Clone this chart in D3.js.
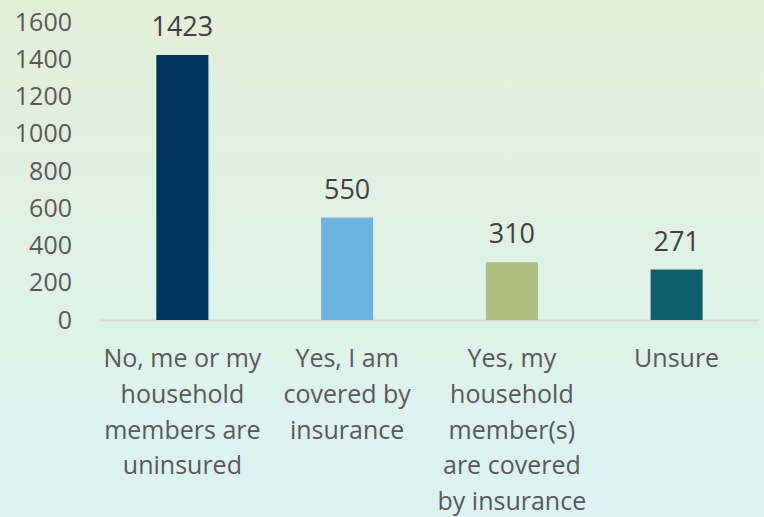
<!DOCTYPE html>
<html>
<head>
<meta charset="utf-8">
<script src="https://cdn.jsdelivr.net/npm/d3@7"></script>
<style>
  body { margin: 0; }
  svg { display: block; font-family: "Open Sans", sans-serif; }
</style>
</head>
<body>
<div id="chart"></div>
<script>
var categories = [
    ["No, me or my", "household", "members are", "uninsured"],
    ["Yes, I am", "covered by", "insurance"],
    ["Yes, my", "household", "member(s)", "are covered", "by insurance"],
    ["Unsure"]
];
var values = [1423, 550, 310, 271];
var barColors = ["#003660", "#6cb3df", "#adbf83", "#0e616a"];
var yTicks = [0, 200, 400, 600, 800, 1000, 1200, 1400, 1600];

var W = 764, H = 517;
var margin = {top: 22, right: 5, bottom: 197, left: 100},
    width = W - margin.left - margin.right,
    height = H - margin.top - margin.bottom;

var svg = d3.select("#chart")
    .append("svg")
        .attr("width", W)
        .attr("height", H);

var grad = svg.append("defs").append("linearGradient")
    .attr("id", "bg")
    .attr("x1", 0).attr("y1", 0).attr("x2", 0).attr("y2", 1);
grad.append("stop").attr("offset", "0%").attr("stop-color", "#e3efd8");
grad.append("stop").attr("offset", "55%").attr("stop-color", "#dff2e6");
grad.append("stop").attr("offset", "100%").attr("stop-color", "#dcf3f3");

svg.append("rect")
    .attr("width", W)
    .attr("height", H)
    .attr("fill", "url(#bg)");

var g = svg.append("g")
    .attr("transform", "translate(" + margin.left + "," + margin.top + ")");

var x = d3.scaleBand()
    .domain(d3.range(values.length))
    .range([0, width])
    .paddingInner(0.684)
    .paddingOuter(0.342);

var y = d3.scaleLinear()
    .domain([0, 1600])
    .range([height, 0]);

// y axis labels only
var yAxis = g.append("g")
    .call(d3.axisLeft(y).tickValues(yTicks).tickFormat(d3.format("d")).tickSize(0).tickPadding(28));
yAxis.select(".domain").remove();
yAxis.selectAll("text")
    .attr("fill", "#595959")
    .style("font-size", "25px")
    .style("font-family", "'Open Sans', sans-serif");

// baseline
g.append("line")
    .attr("x1", 0)
    .attr("x2", width)
    .attr("y1", y(0) + 0.5)
    .attr("y2", y(0) + 0.5)
    .attr("stroke", "#d9d9d9")
    .attr("stroke-width", 2);

g.selectAll(".bar")
    .data(values)
  .enter().append("rect")
    .attr("class", "bar")
    .attr("x", function(d, i) { return x(i); })
    .attr("width", x.bandwidth())
    .attr("y", function(d) { return y(d); })
    .attr("height", function(d) { return height - y(d); })
    .attr("fill", function(d, i) { return barColors[i]; });

g.selectAll(".val")
    .data(values)
  .enter().append("text")
    .attr("class", "val")
    .attr("x", function(d, i) { return x(i) + x.bandwidth() / 2; })
    .attr("y", function(d) { return y(d) - 19; })
    .attr("text-anchor", "middle")
    .attr("fill", "#404040")
    .style("font-size", "27px")
    .text(function(d) { return d; });

// category labels, pre-wrapped
var cat = g.selectAll(".cat")
    .data(categories)
  .enter().append("text")
    .attr("class", "cat")
    .attr("text-anchor", "middle")
    .attr("fill", "#595959")
    .style("font-size", "25px")
    .attr("transform", function(d, i) {
        return "translate(" + (x(i) + x.bandwidth() / 2) + "," + (height + 47) + ")";
    });

cat.selectAll("tspan")
    .data(function(d) { return d; })
  .enter().append("tspan")
    .attr("x", 0)
    .attr("y", function(d, i) { return i * 35.8; })
    .text(function(d) { return d; });
</script>
</body>
</html>
